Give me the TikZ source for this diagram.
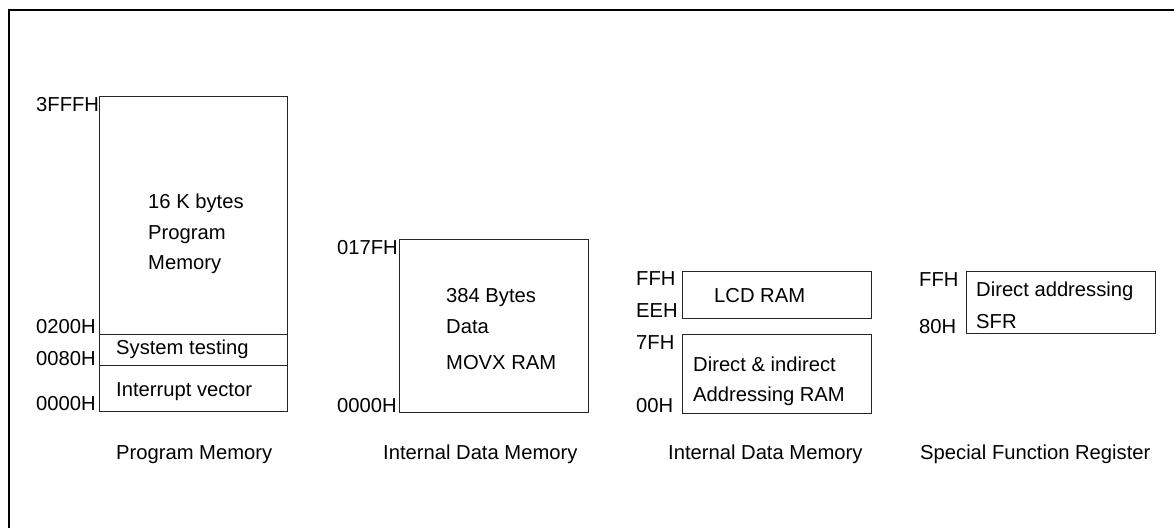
\documentclass[tikz,border=0pt]{standalone}
\usepackage{fontspec}
\setmainfont{Liberation Sans}
\begin{document}
\begin{tikzpicture}[x=1pt,y=-1pt,
  lbl/.style={inner sep=0pt, anchor=base west, font=\fontsize{20.2}{24}\selectfont},
  box/.style={draw=black!85, line width=1pt},
  frame/.style={draw=black, line width=2pt}]
\useasboundingbox (0,0) rectangle (1174,527);
\begin{scope}
  \clip (0,0) rectangle (1174,527);
  \draw[frame] (8.5,540) -- (8.5,10.5) -- (1190,10.5);
\end{scope}
% Program memory
\draw[box] (99,96) rectangle (287,411);
\draw[box] (99,334) -- (287,334);
\draw[box] (99,365) -- (287,365);
\node[lbl] (a1) at (36,111) {3FFFH};
\node[lbl] (a2) at (36,333) {0200H};
\node[lbl] (a3) at (36,365) {0080H};
\node[lbl] (a4) at (36,410) {0000H};
\node[lbl] (p1) at (148,208) {16 K bytes};
\node[lbl] (p2) at (148,239) {Program};
\node[lbl] (p3) at (148,269) {Memory};
\node[lbl] (p4) at (116,354) {System testing};
\node[lbl] (p5) at (116,396) {Interrupt vector};
\node[lbl] (t1) at (116,459.5) {Program Memory};
% MOVX RAM
\draw[box] (399,239) rectangle (588,412);
\node[lbl] (b1) at (337,254) {017FH};
\node[lbl] (b2) at (337,412) {0000H};
\node[lbl] (m1) at (446,302.5) {384 Bytes};
\node[lbl] (m2) at (446,333) {Data};
\node[lbl] (m3) at (446,369) {MOVX RAM};
\node[lbl] (t2) at (383,459.5) {Internal Data Memory};
% Internal RAM
\draw[box] (682,271) rectangle (871,318);
\draw[box] (682,334) rectangle (871,413);
\node[lbl] (c1) at (636,285.5) {FFH};
\node[lbl] (c2) at (636,317) {EEH};
\node[lbl] (c3) at (636,349) {7FH};
\node[lbl] (c4) at (636,412.5) {00H};
\node[lbl] (r1) at (714,302) {LCD RAM};
\node[lbl] (r2) at (693,371) {Direct \& indirect};
\node[lbl] (r3) at (693,401.5) {Addressing RAM};
\node[lbl] (t3) at (668,459.5) {Internal Data Memory};
% SFR
\draw[box] (966,271) rectangle (1155,333);
\node[lbl] (d1) at (919,286) {FFH};
\node[lbl] (d2) at (919,333) {80H};
\node[lbl] (s1) at (976,296.5) {Direct addressing};
\node[lbl] (s2) at (976,328) {SFR};
\node[lbl] (t4) at (920,459.5) {Special Function Register};
\end{tikzpicture}
\end{document}
